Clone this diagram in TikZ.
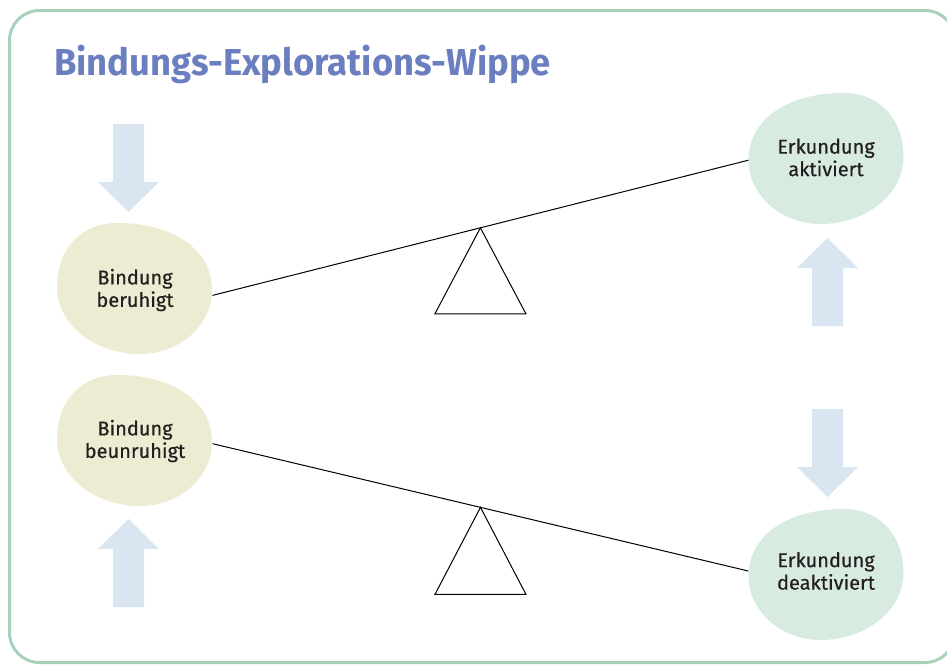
\documentclass[tikz,border=0pt]{standalone}
\usepackage{fontspec}
\setmainfont{Fira Sans}
\newfontfamily\headfont[FakeStretch=0.97]{Fira Sans}
\newfontfamily\blobfont[FakeBold=0.4]{Fira Sans}
\usetikzlibrary{shapes.geometric}

\definecolor{framegreen}{HTML}{A9D1BA}
\definecolor{headblue}{HTML}{6B7FC0}
\definecolor{bondbeige}{HTML}{EDEBD1}
\definecolor{exploregreen}{HTML}{D8EBE1}
\definecolor{arrowblue}{HTML}{DAE5F2}
\definecolor{textdark}{HTML}{231F20}

\tikzset{
  pics/blob/.style={code={
    \fill[#1] (-18,-65) .. controls (39,-65) and (77,-38) .. (77,2)
      .. controls (77,37) and (45,66) .. (5,66)
      .. controls (-41,66) and (-78,36) .. (-78,-1)
      .. controls (-78,-39) and (-54,-65) .. (-18,-65) -- cycle;
  }},
  pics/bigarrow/.style={code={
    \fill[arrowblue] (0,0) -- (30.5,30) -- (15.5,30) -- (15.5,88)
      -- (-15.5,88) -- (-15.5,30) -- (-30.5,30) -- cycle;
  }}
}

\begin{document}
\begin{tikzpicture}[x=1pt,y=-1pt]
    \tikzstyle{lever} = [draw=black, line width=1pt]
    \tikzstyle{fulcrum} = [draw=black, line width=1pt, line join=miter]
    \tikzstyle{blobtext} = [ellipse, minimum width=155pt, minimum height=130pt,
      inner sep=0pt, align=center, text=textdark,
      font=\blobfont\fontsize{20}{22.5}\selectfont]
    \useasboundingbox (0,0) rectangle (947,664);
    \clip (0,0) rectangle (947,664);

    % frame and title
    \draw[framegreen, line width=3pt, rounded corners=30pt]
      (9.5,10.5) rectangle (955,662.5);
    \node[anchor=base west, inner sep=0pt, text=headblue,
      font=\headfont\bfseries\fontsize{37.5}{40}\selectfont]
      (title) at (54,75) {Bindungs-Explorations-Wippe};

    % blobs
    \pic at (135,288) {blob=bondbeige};
    \pic at (135,440) {blob=bondbeige};
    \pic[xscale=-1] at (825.5,158) {blob=exploregreen};
    \pic[xscale=-1] at (825.5,574) {blob=exploregreen};

    \node[blobtext] (calm) at (135,290) {Bindung\\beruhigt};
    \node[blobtext] (upset) at (135,441) {Bindung\\beunruhigt};
    \node[blobtext] (active) at (826,157.5) {Erkundung\\aktiviert};
    \node[blobtext] (inactive) at (826,571) {Erkundung\\deaktiviert};

    % arrows
    \pic[rotate=180] at (128.5,212) {bigarrow};
    \pic at (128.5,519) {bigarrow};
    \pic at (827.5,238) {bigarrow};
    \pic[rotate=180] at (827.5,497) {bigarrow};

    % seesaws
    \draw[lever] (calm.-4) -- coordinate (pivottop) (active.182);
    \draw[fulcrum] (pivottop) -- ++(-45.5,86) -- ++(91,0) -- cycle;
    \draw[lever] (upset.-2) -- coordinate (pivotbottom) (inactive.180);
    \draw[fulcrum] (pivotbottom) -- ++(-45.5,87) -- ++(91,0) -- cycle;
\end{tikzpicture}
\end{document}
